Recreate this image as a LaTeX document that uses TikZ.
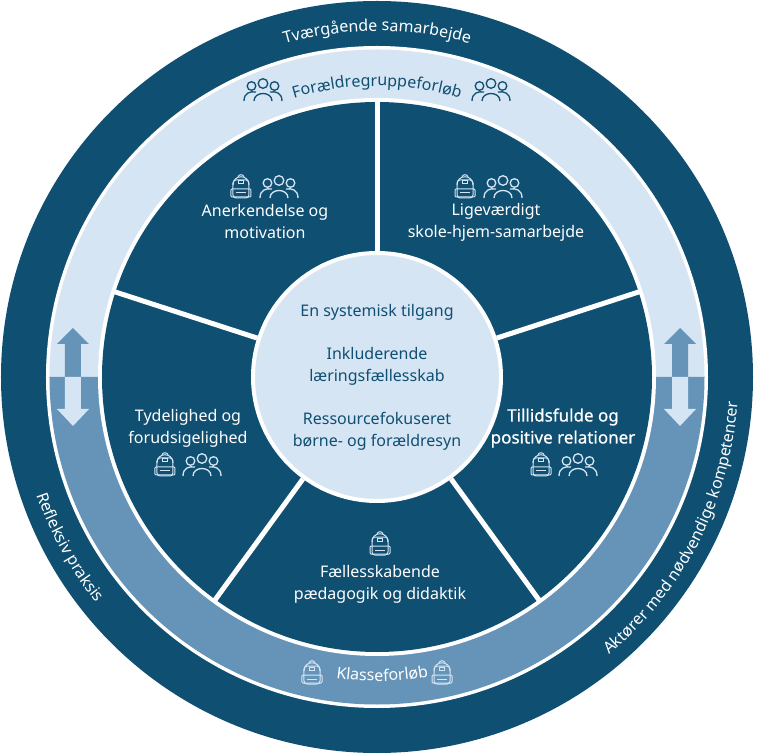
\documentclass[tikz,border=0pt]{standalone}
\usepackage{fontspec}
\setmainfont{Noto Sans}
\newfontfamily\semifont[FakeBold=0.7]{Noto Sans}
\usetikzlibrary{decorations.text}
\definecolor{deepblue}{HTML}{0F4F72}
\definecolor{paleblue}{HTML}{D6E5F4}
\definecolor{midblue}{HTML}{6594B8}
\newcommand{\labelfont}{\fontsize{16}{22}\selectfont}
\tikzset{
  spoke/.style={white, line width=5pt},
  segtext/.style={text=white, align=center, font=\labelfont},
  curved/.style={decorate, decoration={text along path, text align=center, text={#1}}},
  pics/backpack/.style={code={
    \draw[line width=1pt, rounded corners=3pt] (-8,-11) rectangle (8,7);
    \draw[line width=1pt] (-8,2) .. controls (-8,13) and (8,13) .. (8,2);
    \draw[line width=1pt] (-3,10) .. controls (-3,13) and (3,13) .. (3,10);
    \draw[line width=1pt, rounded corners=1pt] (-10,-10) rectangle (10,-2);
    \draw[line width=1pt] (-5,-6) -- (5,-6);
    \draw[line width=1pt] (-2.5,3) rectangle (2.5,6);
  }},
  pics/people/.style={code={
    \draw[line width=1.3pt] (0,6.5) circle (4.8);
    \draw[line width=1.3pt] (-11.5,4) circle (4.3);
    \draw[line width=1.3pt] (11.5,4) circle (4.3);
    \draw[line width=1.3pt] (-9,-11) .. controls (-9,-1) and (9,-1) .. (9,-11);
    \draw[line width=1.3pt] (-19,-11) .. controls (-19,-3) and (-13,-1) .. (-7,-2);
    \draw[line width=1.3pt] (19,-11) .. controls (19,-3) and (13,-1) .. (7,-2);
  }},
  pics/updown/.style={code={
    \fill[midblue] (-8,0) -- (-8,33) -- (-16,33) -- (0,49) -- (16,33) -- (8,33) -- (8,0) -- cycle;
    \fill[paleblue] (-8,0) -- (-8,-32) -- (-16,-32) -- (0,-49) -- (16,-32) -- (8,-32) -- (8,0) -- cycle;
  }},
}

\begin{document}
\begin{tikzpicture}[x=1pt, y=1pt]
  \useasboundingbox (-377,-377) rectangle (391,377);
  % rings
  \fill[deepblue] (0,0) circle (376);
  \fill[white] (0,0) circle (331);
  \fill[paleblue] (-327.5,0) arc[start angle=180, end angle=0, radius=327.5pt] -- cycle;
  \fill[midblue] (-327.5,0) arc[start angle=180, end angle=360, radius=327.5pt] -- cycle;
  \pic at (-304,0) {updown};
  \pic at (303,0) {updown};
  \fill[white] (0,0) circle (279);
  \fill[deepblue] (0,0) circle (275);
  % hub and spokes
  \node (hub) [circle, fill=paleblue, draw=white, line width=4pt, minimum size=248pt, inner sep=0pt,
    align=center, text=deepblue, font=\labelfont] at (0,0)
    {En systemisk tilgang\\[21pt]Inkluderende\\læringsfællesskab\\[21pt]Ressourcefokuseret\\børne- og forældresyn};
  \foreach \ang in {90,18,-54,-126,162} {
    \coordinate (rim\ang) at (\ang:277);
    \draw[spoke] (hub.\ang) -- (rim\ang);
  }
  % segments
  \node (anerkend) [segtext] at (-112,155) {Anerkendelse og\\motivation};
  \node (ligevaerd) [segtext] at (119,155) {Ligeværdigt\\skole-hjem-samarbejde};
  \node (tillid) [segtext, font=\fontsize{17}{22}\selectfont\semifont] at (186,-51) {Tillidsfulde og\\positive relationer};
  \node (faelles) [segtext] at (3,-207) {Fællesskabende\\pædagogik og didaktik};
  \node (tydelig) [segtext] at (-189,-51) {Tydelighed og\\forudsigelighed};
  % icons
  \begin{scope}[color=paleblue]
    \pic at (-136,190) {backpack};  \pic at (-98,190) {people};
    \pic at (88,190) {backpack};    \pic at (126,190) {people};
    \pic at (164,-88) {backpack};   \pic at (201,-88) {people};
    \pic at (3,-167) {backpack};
    \pic at (-212,-88) {backpack};  \pic at (-175,-88) {people};
    \pic at (-65,-296) {backpack};  \pic at (65,-296) {backpack};
  \end{scope}
  \begin{scope}[color=deepblue]
    \pic at (-114,287) {people};
    \pic at (114,287) {people};
  \end{scope}
  % curved labels
  \path[curved={|\labelfont\color{white}|Tværgående samarbejde}]
    (150:346) arc[start angle=150, end angle=30, radius=346pt];
  \path[curved={|\labelfont\color{deepblue}|Forældregruppeforløb}]
    (150:291) arc[start angle=150, end angle=30, radius=291pt];
  \path[curved={|\labelfont\color{white}|Klasseforløb}]
    (211:304) arc[start angle=211, end angle=331, radius=304pt];
  \path[curved={|\labelfont\color{white}|Aktører med nødvendige kompetencer}]
    (-77:362) arc[start angle=-77, end angle=23, radius=362pt];
  \path[curved={|\labelfont\color{white}|Refleksiv praksis}]
    (159:360) arc[start angle=159, end angle=259, radius=360pt];
\end{tikzpicture}
\end{document}
